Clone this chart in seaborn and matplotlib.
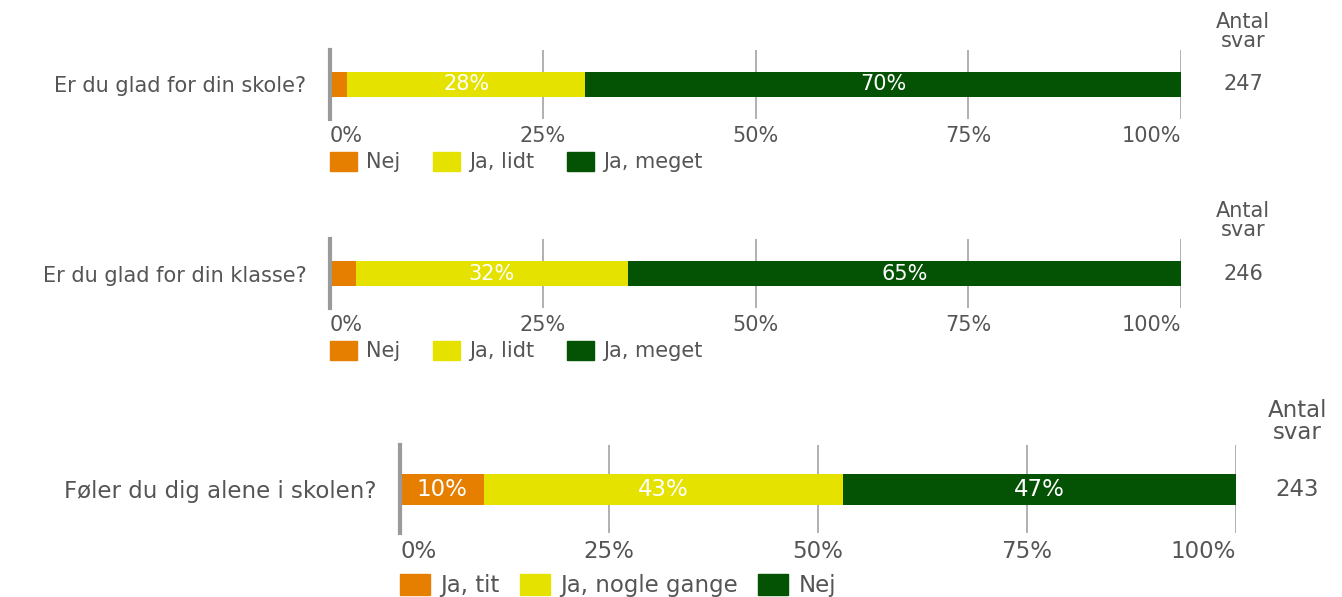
import numpy as np
import pandas as pd
import matplotlib
matplotlib.use("Agg")
import matplotlib.pyplot as plt
import seaborn as sns
from matplotlib.patches import Patch

# data
questions = ["Er du glad for din skole?", "Er du glad for din klasse?", "Føler du dig alene i skolen?"]
cats_glad = ["Nej", "Ja, lidt", "Ja, meget"]
cats_alene = ["Ja, tit", "Ja, nogle gange", "Nej"]
vals_skole = [2, 28, 70]
vals_klasse = [3, 32, 65]
vals_alene = [10, 43, 47]
antal_svar = [247, 246, 243]

colors = ["#e67e00", "#e6e200", "#045204"]
txt = "#555555"
grid_c = "#a3a3a3"

sns.set_style("white")
plt.rcParams["font.family"] = ["DejaVu Sans"]

W, H = 1342, 597
fig = plt.figure(figsize=(W / 100, H / 100), dpi=100)


def px_box(x0, y0, x1, y1):
    return [x0 / W, 1 - y1 / H, (x1 - x0) / W, (y1 - y0) / H]


panels = [
    # question, categories, values, n, box, bar width, font size, legend y, col spacing
    (questions[0], cats_glad, vals_skole, antal_svar[0], (330, 50, 1181, 119), 25 / 69, 15, 152, 1.55),
    (questions[1], cats_glad, vals_klasse, antal_svar[1], (330, 239, 1181, 308), 25 / 69, 15, 341, 1.55),
    (questions[2], cats_alene, vals_alene, antal_svar[2], (400, 445, 1236, 533), 31 / 88, 16.5, 574, 0.9),
]

for q, cats, vals, n, box, bw, fs, leg_y, colsp in panels:
    ax = fig.add_axes(px_box(*box))
    cum = np.cumsum(vals)
    df = pd.DataFrame({"question": [q] * len(vals), "cat": cats, "cum": cum})
    # stacked bars: draw cumulative totals from largest to smallest
    for i in reversed(range(len(vals))):
        sns.barplot(data=df.iloc[[i]], x="cum", y="question", color=colors[i],
                    saturation=1, width=bw, orient="h", ax=ax, zorder=2, linewidth=0)
    starts = cum - np.array(vals)
    for s, v in zip(starts, vals):
        if v >= 5:
            ax.text(s + v / 2, 0, f"{v}%", color="white", ha="center", va="center",
                    fontsize=fs)

    ax.set_xlim(0, 100)
    ax.set_ylim(0.5, -0.5)
    ax.set_xlabel("")
    ax.set_ylabel("")
    ax.set_xticks([0, 25, 50, 75, 100])
    ax.set_xticklabels([f"{t}%" for t in [0, 25, 50, 75, 100]], color=txt, fontsize=fs)
    labs = ax.get_xticklabels()
    labs[0].set_ha("left")
    labs[-1].set_ha("right")
    ax.tick_params(axis="x", length=0, pad=5)
    ax.tick_params(axis="y", length=0, pad=17, labelsize=fs, labelcolor=txt)
    ax.grid(axis="x", color=grid_c, linewidth=1.2)
    ax.grid(axis="y", visible=False)
    ax.set_axisbelow(True)
    for sp in ["top", "right", "bottom"]:
        ax.spines[sp].set_visible(False)
    ax.spines["left"].set_color("#9a9a9a")
    ax.spines["left"].set_linewidth(3)
    ax.spines["left"].set_zorder(5)

    ax.text(1.073, 1.27, "Antal\nsvar", transform=ax.transAxes, ha="center", va="center",
            color=txt, fontsize=fs, linespacing=0.95)
    ax.text(1.073, 0, str(n), transform=ax.get_yaxis_transform(), ha="center", va="center",
            color=txt, fontsize=fs)

    handles = [Patch(facecolor=c, edgecolor=c, label=l) for c, l in zip(colors, cats)]
    ax.legend(handles=handles, loc="upper left", ncol=3, frameon=False,
              bbox_to_anchor=(box[0] / W, 1 - leg_y / H), bbox_transform=fig.transFigure,
              borderpad=0, borderaxespad=0, handlelength=1.3, handleheight=1.0,
              handletextpad=0.45, columnspacing=colsp, fontsize=fs, labelcolor=txt)

fig.savefig("out.png", dpi=100)
